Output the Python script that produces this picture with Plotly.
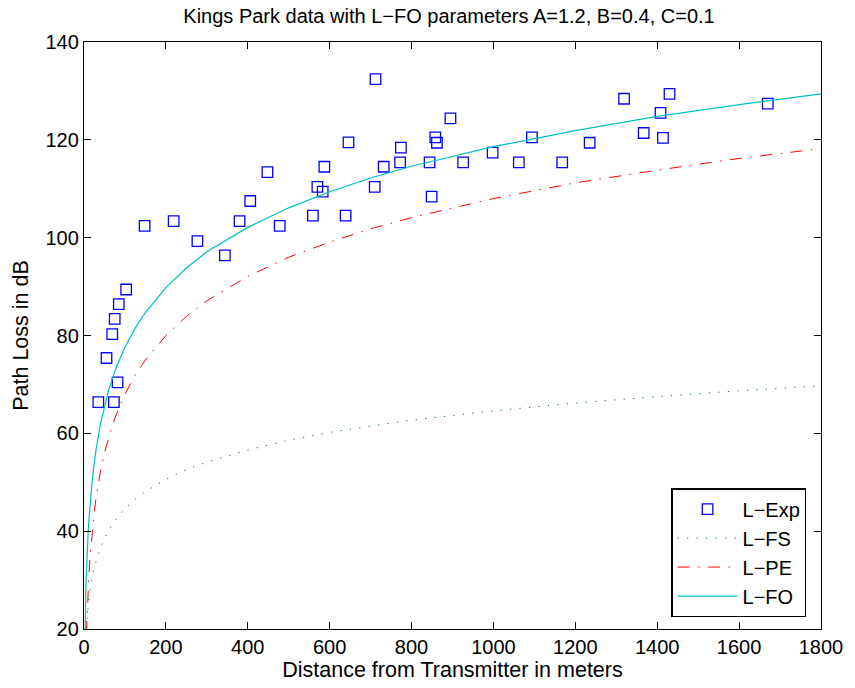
import plotly.graph_objects as go

# Measured path loss, Kings Park (distance in m, loss in dB)
exp_dist = [35, 55, 69, 73, 75, 82, 85, 103, 148, 219, 277, 344, 380, 406, 448,
            478, 559, 570, 583, 587, 639, 646, 710, 712, 732, 772, 774, 844, 849,
            858, 862, 895, 926, 998, 1062, 1094, 1168, 1235, 1319, 1367, 1408,
            1414, 1430, 1670]
exp_loss = [66.4, 75.4, 80.3, 66.4, 83.4, 70.4, 86.4, 89.4, 102.4, 103.4, 99.3,
            96.4, 103.4, 107.5, 113.4, 102.4, 104.5, 110.4, 109.4, 114.5, 104.5,
            119.5, 110.4, 132.4, 114.5, 115.4, 118.4, 115.4, 108.4, 120.5, 119.4,
            124.4, 115.4, 117.4, 115.4, 120.5, 115.4, 119.4, 128.4, 121.4, 125.5,
            120.4, 129.4, 127.4]

# Model curves sampled along distance (m)
model_dist = [1, 1.5, 2, 3, 4, 5, 6, 8, 10, 12, 15, 20, 25, 30, 40, 50, 60, 70,
              80, 100, 125, 150, 200, 250, 300, 400, 500, 600, 700, 800, 1000,
              1200, 1400, 1600, 1800]
loss_fs = [4.6, 8.1, 10.6, 14.1, 16.6, 18.6, 20.2, 22.7, 24.6, 26.2, 28.1, 30.6,
           32.6, 34.1, 36.6, 38.6, 40.2, 41.5, 42.7, 44.6, 46.5, 48.1, 50.6, 52.6,
           54.1, 56.6, 58.6, 60.2, 61.5, 62.7, 64.6, 66.2, 67.5, 68.7, 69.7]
loss_pe = [-12.0, -5.0, 0.0, 7.1, 12.1, 16.0, 19.1, 24.1, 28.0, 31.2, 35.0, 40.0,
           43.9, 47.1, 52.1, 56.0, 59.1, 61.8, 64.1, 68.0, 71.9, 75.0, 80.0, 83.9,
           87.1, 92.1, 96.0, 99.1, 101.8, 104.1, 108.0, 111.2, 113.8, 116.2, 118.2]
loss_fo = [6.0, 12.0, 16.0, 22.1, 26.3, 29.5, 32.1, 36.3, 39.5, 42.3, 45.7, 50.3,
           54.0, 57.0, 61.9, 65.7, 68.8, 71.4, 73.7, 77.6, 81.5, 84.7, 89.8, 93.8,
           97.1, 102.1, 106.1, 109.4, 112.2, 114.6, 118.6, 121.9, 124.8, 127.2, 129.4]

x_ticks = [0, 200, 400, 600, 800, 1000, 1200, 1400, 1600, 1800]
y_ticks = [20, 40, 60, 80, 100, 120, 140]

FONT = "Liberation Sans, Arial, Helvetica, sans-serif"

fig = go.Figure()
fig.add_trace(go.Scatter(
    x=exp_dist, y=exp_loss, mode="markers", name="L\u2212Exp",
    marker=dict(symbol="square-open", size=10.5, color="rgb(0,0,255)",
                line=dict(width=1.3, color="rgb(0,0,255)")),
))
fig.add_trace(go.Scatter(
    x=model_dist, y=loss_fs, mode="lines", name="L\u2212FS",
    line=dict(color="rgb(0,128,0)", width=1, dash="1.2px,8.3px"),
))
fig.add_trace(go.Scatter(
    x=model_dist, y=loss_pe, mode="lines", name="L\u2212PE",
    line=dict(color="rgb(255,0,0)", width=1, dash="12px,8.5px,1.5px,8.5px"),
))
fig.add_trace(go.Scatter(
    x=model_dist, y=loss_fo, mode="lines", name="L\u2212FO",
    line=dict(color="rgb(0,191,191)", width=1.2),
))

axis_common = dict(
    showgrid=False, zeroline=False, showline=True, linecolor="black",
    linewidth=1.3, mirror="allticks", ticks="inside", ticklen=7,
    tickwidth=1, tickcolor="black",
    tickfont=dict(family=FONT, size=20, color="black"),
)

fig.update_layout(
    width=855, height=688,
    margin=dict(l=84, r=27, t=42, b=59),
    paper_bgcolor="white", plot_bgcolor="white",
    font=dict(family=FONT, size=20, color="black"),
    title=dict(
        text="Kings Park data with L\u2212FO parameters A=1.2, B=0.4, C=0.1",
        x=449 / 855, xanchor="center",
        y=1 - 16 / 688, yanchor="middle",
        font=dict(family=FONT, size=20, color="black"),
    ),
    xaxis=dict(
        range=[0, 1800], tickvals=x_ticks,
        title=dict(text="Distance from Transmitter in meters", standoff=2,
                   font=dict(family=FONT, size=21.5)),
        **axis_common,
    ),
    yaxis=dict(
        range=[20, 140], tickvals=y_ticks,
        title=dict(text="Path Loss in dB", standoff=10,
                   font=dict(family=FONT, size=21.5)),
        **axis_common,
    ),
    legend=dict(
        x=0.98, y=0.02, xanchor="right", yanchor="bottom",
        bgcolor="white", bordercolor="black", borderwidth=1.3,
        font=dict(family=FONT, size=20, color="black"),
        itemwidth=60, tracegroupgap=0,
    ),
    showlegend=True,
)

fig.write_html("out.html")
